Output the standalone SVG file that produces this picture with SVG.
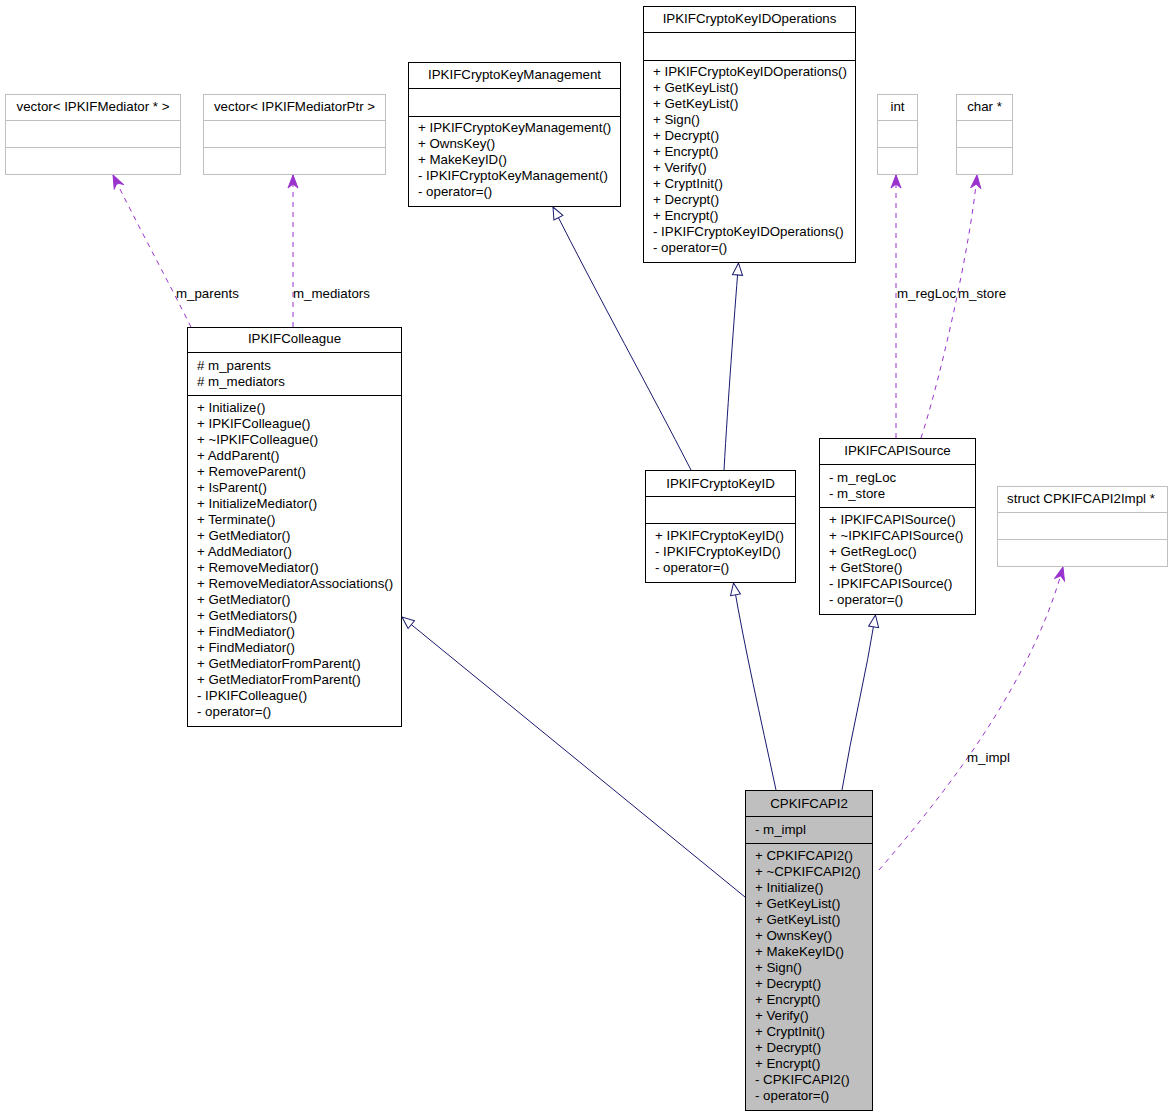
<svg xmlns="http://www.w3.org/2000/svg" width="1171" height="1115" viewBox="0 0 1171 1115">
<style>
text{font-family:"Liberation Sans",Arial,Helvetica,sans-serif;font-size:13.3px;fill:#000}
.t{text-anchor:middle}
.box{fill:#fff;stroke:#000;stroke-width:1}
.ext{fill:#fff;stroke:#bfbfbf;stroke-width:1}
.cur{fill:#bfbfbf;stroke:#000;stroke-width:1}
.div{stroke:#000;stroke-width:1}
.gdiv{stroke:#bfbfbf;stroke-width:1}
.inh{fill:none;stroke:#191970;stroke-width:1;marker-end:url(#tri)}
.use{fill:none;stroke:#9a32cd;stroke-width:1;stroke-dasharray:5,5;marker-end:url(#vee)}
</style>
<defs>
<marker id="tri" markerUnits="userSpaceOnUse" markerWidth="16" markerHeight="14" refX="13" refY="6" orient="auto" viewBox="0 0 16 12">
<path d="M1,1 L13,6 L1,11 Z" fill="#fff" stroke="#191970" stroke-width="1"/>
</marker>
<marker id="vee" markerUnits="userSpaceOnUse" markerWidth="16" markerHeight="14" refX="14" refY="6" orient="auto" viewBox="0 0 16 12">
<path d="M14,6 L1,1 L5,6 L1,11 Z" fill="#9a32cd" stroke="#9a32cd" stroke-width="1"/>
</marker>
</defs>
<rect width="1171" height="1115" fill="#fff"/>

<g id="connectors">
<path class="use" d="M191,327 C170,285 135,220 113,175"/>
<path class="use" d="M293,327 L293,175"/>
<path class="inh" d="M745,897 L402,617"/>
<path class="inh" d="M776,790 C760,715 745,650 733.5,583"/>
<path class="inh" d="M842,790 C852,730 866,675 875.5,615"/>
<path class="inh" d="M691,470 C650,390 600,300 553,207"/>
<path class="inh" d="M724,470 C728,400 734,320 738.5,263"/>
<path class="use" d="M896,438 L896,175"/>
<path class="use" d="M921,438 C940,380 970,250 977,175"/>
<path class="use" d="M879,870 C935,805 1030,690 1063,567"/>
<text x="176" y="298">m_parents</text>
<text x="293" y="298">m_mediators</text>
<text x="897" y="298">m_regLoc</text>
<text x="958" y="298">m_store</text>
<text x="967" y="762">m_impl</text>
</g>

<g id="vectorMediator">
<rect class="ext" x="5.5" y="94.5" width="175" height="80"/>
<line class="gdiv" x1="5.5" y1="120.5" x2="180.5" y2="120.5"/>
<line class="gdiv" x1="5.5" y1="147.5" x2="180.5" y2="147.5"/>
<text class="t" x="93" y="111">vector&lt; IPKIFMediator * &gt;</text>
</g>

<g id="vectorMediatorPtr">
<rect class="ext" x="203.5" y="94.5" width="182" height="80"/>
<line class="gdiv" x1="203.5" y1="120.5" x2="385.5" y2="120.5"/>
<line class="gdiv" x1="203.5" y1="147.5" x2="385.5" y2="147.5"/>
<text class="t" x="294.5" y="111">vector&lt; IPKIFMediatorPtr &gt;</text>
</g>

<g id="IPKIFCryptoKeyManagement">
<rect class="box" x="408.5" y="62.5" width="212" height="144"/>
<line class="div" x1="408.5" y1="88.5" x2="620.5" y2="88.5"/>
<line class="div" x1="408.5" y1="116.5" x2="620.5" y2="116.5"/>
<text class="t" x="514.5" y="79">IPKIFCryptoKeyManagement</text>
<text x="418" y="131.5">+ IPKIFCryptoKeyManagement()</text>
<text x="418" y="147.5">+ OwnsKey()</text>
<text x="418" y="163.5">+ MakeKeyID()</text>
<text x="418" y="179.5">- IPKIFCryptoKeyManagement()</text>
<text x="418" y="195.5">- operator=()</text>
</g>

<g id="IPKIFCryptoKeyIDOperations">
<rect class="box" x="643.5" y="6.5" width="212" height="256"/>
<line class="div" x1="643.5" y1="32.5" x2="855.5" y2="32.5"/>
<line class="div" x1="643.5" y1="60.5" x2="855.5" y2="60.5"/>
<text class="t" x="749.5" y="23">IPKIFCryptoKeyIDOperations</text>
<text x="653" y="75.5">+ IPKIFCryptoKeyIDOperations()</text>
<text x="653" y="91.5">+ GetKeyList()</text>
<text x="653" y="107.5">+ GetKeyList()</text>
<text x="653" y="123.5">+ Sign()</text>
<text x="653" y="139.5">+ Decrypt()</text>
<text x="653" y="155.5">+ Encrypt()</text>
<text x="653" y="171.5">+ Verify()</text>
<text x="653" y="187.5">+ CryptInit()</text>
<text x="653" y="203.5">+ Decrypt()</text>
<text x="653" y="219.5">+ Encrypt()</text>
<text x="653" y="235.5">- IPKIFCryptoKeyIDOperations()</text>
<text x="653" y="251.5">- operator=()</text>
</g>

<g id="int">
<rect class="ext" x="877.5" y="94.5" width="40" height="80"/>
<line class="gdiv" x1="877.5" y1="120.5" x2="917.5" y2="120.5"/>
<line class="gdiv" x1="877.5" y1="147.5" x2="917.5" y2="147.5"/>
<text class="t" x="897.5" y="111">int</text>
</g>

<g id="charPtr">
<rect class="ext" x="956.5" y="94.5" width="56" height="80"/>
<line class="gdiv" x1="956.5" y1="120.5" x2="1012.5" y2="120.5"/>
<line class="gdiv" x1="956.5" y1="147.5" x2="1012.5" y2="147.5"/>
<text class="t" x="984.5" y="111">char *</text>
</g>

<g id="IPKIFColleague">
<rect class="box" x="187.5" y="327.5" width="214" height="399"/>
<line class="div" x1="187.5" y1="352.5" x2="401.5" y2="352.5"/>
<line class="div" x1="187.5" y1="395.5" x2="401.5" y2="395.5"/>
<text class="t" x="294.5" y="343">IPKIFColleague</text>
<text x="197" y="369.5"># m_parents</text>
<text x="197" y="385.5"># m_mediators</text>
<text x="197" y="411.5">+ Initialize()</text>
<text x="197" y="427.5">+ IPKIFColleague()</text>
<text x="197" y="443.5">+ ~IPKIFColleague()</text>
<text x="197" y="459.5">+ AddParent()</text>
<text x="197" y="475.5">+ RemoveParent()</text>
<text x="197" y="491.5">+ IsParent()</text>
<text x="197" y="507.5">+ InitializeMediator()</text>
<text x="197" y="523.5">+ Terminate()</text>
<text x="197" y="539.5">+ GetMediator()</text>
<text x="197" y="555.5">+ AddMediator()</text>
<text x="197" y="571.5">+ RemoveMediator()</text>
<text x="197" y="587.5">+ RemoveMediatorAssociations()</text>
<text x="197" y="603.5">+ GetMediator()</text>
<text x="197" y="619.5">+ GetMediators()</text>
<text x="197" y="635.5">+ FindMediator()</text>
<text x="197" y="651.5">+ FindMediator()</text>
<text x="197" y="667.5">+ GetMediatorFromParent()</text>
<text x="197" y="683.5">+ GetMediatorFromParent()</text>
<text x="197" y="699.5">- IPKIFColleague()</text>
<text x="197" y="715.5">- operator=()</text>
</g>

<g id="IPKIFCryptoKeyID">
<rect class="box" x="645.5" y="470.5" width="150" height="112"/>
<line class="div" x1="645.5" y1="496.5" x2="795.5" y2="496.5"/>
<line class="div" x1="645.5" y1="523.5" x2="795.5" y2="523.5"/>
<text class="t" x="720.5" y="487.5">IPKIFCryptoKeyID</text>
<text x="655" y="539.5">+ IPKIFCryptoKeyID()</text>
<text x="655" y="555.5">- IPKIFCryptoKeyID()</text>
<text x="655" y="571.5">- operator=()</text>
</g>

<g id="IPKIFCAPISource">
<rect class="box" x="819.5" y="438.5" width="156" height="176"/>
<line class="div" x1="819.5" y1="464.5" x2="975.5" y2="464.5"/>
<line class="div" x1="819.5" y1="507.5" x2="975.5" y2="507.5"/>
<text class="t" x="897.5" y="455">IPKIFCAPISource</text>
<text x="829" y="481.5">- m_regLoc</text>
<text x="829" y="497.5">- m_store</text>
<text x="829" y="523.5">+ IPKIFCAPISource()</text>
<text x="829" y="539.5">+ ~IPKIFCAPISource()</text>
<text x="829" y="555.5">+ GetRegLoc()</text>
<text x="829" y="571.5">+ GetStore()</text>
<text x="829" y="587.5">- IPKIFCAPISource()</text>
<text x="829" y="603.5">- operator=()</text>
</g>

<g id="CPKIFCAPI2Impl">
<rect class="ext" x="997.5" y="486.5" width="170" height="80"/>
<line class="gdiv" x1="997.5" y1="512.5" x2="1167.5" y2="512.5"/>
<line class="gdiv" x1="997.5" y1="539.5" x2="1167.5" y2="539.5"/>
<text class="t" x="1081" y="503">struct CPKIFCAPI2Impl *</text>
</g>

<g id="CPKIFCAPI2">
<rect class="cur" x="745.5" y="790.5" width="127" height="320"/>
<line class="div" x1="745.5" y1="816.5" x2="872.5" y2="816.5"/>
<line class="div" x1="745.5" y1="843.5" x2="872.5" y2="843.5"/>
<text class="t" x="809" y="807.5">CPKIFCAPI2</text>
<text x="755" y="833.5">- m_impl</text>
<text x="755" y="859.5">+ CPKIFCAPI2()</text>
<text x="755" y="875.5">+ ~CPKIFCAPI2()</text>
<text x="755" y="891.5">+ Initialize()</text>
<text x="755" y="907.5">+ GetKeyList()</text>
<text x="755" y="923.5">+ GetKeyList()</text>
<text x="755" y="939.5">+ OwnsKey()</text>
<text x="755" y="955.5">+ MakeKeyID()</text>
<text x="755" y="971.5">+ Sign()</text>
<text x="755" y="987.5">+ Decrypt()</text>
<text x="755" y="1003.5">+ Encrypt()</text>
<text x="755" y="1019.5">+ Verify()</text>
<text x="755" y="1035.5">+ CryptInit()</text>
<text x="755" y="1051.5">+ Decrypt()</text>
<text x="755" y="1067.5">+ Encrypt()</text>
<text x="755" y="1083.5">- CPKIFCAPI2()</text>
<text x="755" y="1099.5">- operator=()</text>
</g>
</svg>
